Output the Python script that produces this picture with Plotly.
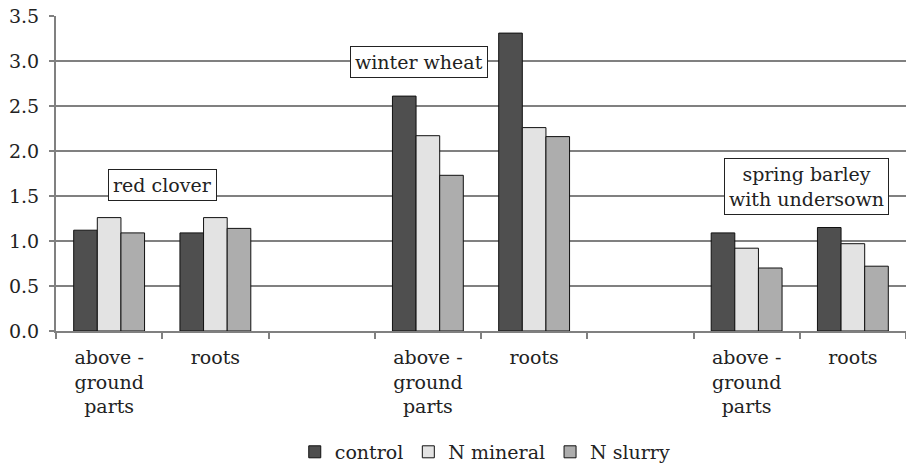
import plotly.graph_objects as go

categories = ["rc_ag", "rc_roots", "gap1", "ww_ag", "ww_roots", "gap2", "sb_ag", "sb_roots"]
tick_labels = ["above -<br>ground<br>parts", "roots", "", "above -<br>ground<br>parts", "roots", "",
               "above -<br>ground<br>parts", "roots"]
control = [1.12, 1.09, None, 2.61, 3.31, None, 1.09, 1.15]
n_mineral = [1.26, 1.26, None, 2.17, 2.26, None, 0.92, 0.97]
n_slurry = [1.09, 1.14, None, 1.73, 2.16, None, 0.70, 0.72]
series_names = ["control", "N mineral", "N slurry"]
crop_labels = ["red clover", "winter wheat", "spring barley<br>with undersown"]
crop_label_x = [0.5, 2.92, 6.56]
crop_label_y = [1.62, 2.99, 1.61]

colors = ["#4f4f4f", "#e3e3e3", "#adadad"]
FONT = "DejaVu Serif"
TXT = "#222222"
GRID = "#808080"
FS = 19

fig = go.Figure()
for name, vals, col in zip(series_names, [control, n_mineral, n_slurry], colors):
    fig.add_trace(go.Bar(x=categories, y=vals, name=name,
                         marker=dict(color=col, line=dict(color="#111111", width=1))))

for t, x, y in zip(crop_labels, crop_label_x, crop_label_y):
    fig.add_annotation(x=x, y=y, xref="x", yref="y", text=t, showarrow=False,
                       bgcolor="white", bordercolor="#222222", borderwidth=1, borderpad=4,
                       font=dict(family=FONT, size=FS, color=TXT))

fig.update_layout(
    width=906, height=465,
    margin=dict(l=56, r=0, t=16, b=134, autoexpand=False),
    paper_bgcolor="white", plot_bgcolor="white",
    barmode="group", bargap=0.333, bargroupgap=0,
    font=dict(family=FONT, size=FS, color=TXT),
    showlegend=True,
    legend=dict(orientation="h", x=0.505, xanchor="center", y=-0.384, yanchor="middle",
                font=dict(family=FONT, size=FS, color=TXT), tracegroupgap=0),
    xaxis=dict(type="category", categoryorder="array", categoryarray=categories,
               tickmode="array", tickvals=categories, ticktext=tick_labels,
               tickson="boundaries", ticks="outside", ticklen=6, tickcolor=GRID, tickwidth=1.5,
               ticklabelstandoff=8,
               showline=True, linecolor=GRID, linewidth=2, showgrid=False, automargin=False,
               range=[-0.5, 7.5], tickfont=dict(family=FONT, size=FS, color=TXT)),
    yaxis=dict(range=[0, 3.5], dtick=0.5, tickformat=".1f", ticks="outside", ticklen=5,
               tickcolor=GRID, tickwidth=1.5, showgrid=True, gridcolor=GRID, gridwidth=1.5,
               ticklabelstandoff=6,
               showline=True, linecolor=GRID, linewidth=2, zeroline=False, automargin=False,
               tickfont=dict(family=FONT, size=FS, color=TXT)),
)

fig.write_html("out.html", config={"displayModeBar": False},
               post_script="document.body.style.margin='0';")
